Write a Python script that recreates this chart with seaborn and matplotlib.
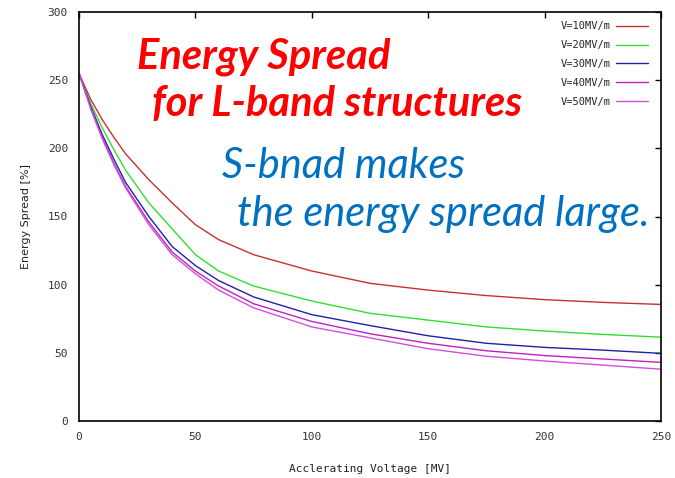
import numpy as np
import pandas as pd
import matplotlib
matplotlib.use("Agg")
import matplotlib.pyplot as plt
import seaborn as sns
from matplotlib.lines import Line2D

voltage = [0, 5, 10, 15, 20, 30, 40, 50, 60, 75, 100, 125, 150, 175, 200, 225, 250]
v10 = [255, 236, 221, 208, 196, 177, 160, 144, 133, 122, 110, 101, 96, 92, 89, 87, 85.5]
v20 = [255, 233, 215, 199, 184, 160, 141, 122, 110, 99, 88, 79, 74, 69, 66, 63.5, 61.5]
v30 = [255, 231, 210, 192, 175, 150, 128, 114, 103, 91, 78, 70, 62.5, 57, 54, 52, 49.6]
v40 = [255, 230, 208, 189, 172, 146, 124, 110, 99, 86, 73, 64, 57, 51.5, 48, 45.5, 43]
v50 = [255, 229, 207, 188, 171, 144, 122, 108, 96, 83, 69, 61, 53, 47.5, 44, 41, 38]
series_names = ["V=10MV/m", "V=20MV/m", "V=30MV/m", "V=40MV/m", "V=50MV/m"]
series_vals = [v10, v20, v30, v40, v50]
colors = ["#c83030", "#30e030", "#2020a8", "#c020c0", "#d050d8"]
xticks = [0, 50, 100, 150, 200, 250]
yticks = [0, 50, 100, 150, 200, 250, 300]

rows = []
for name, vals in zip(series_names, series_vals):
    for x, y in zip(voltage, vals):
        rows.append({"V": x, "E": y, "series": name})
df = pd.DataFrame(rows)

sns.set_style("white")
plt.rcParams["font.family"] = ["DejaVu Sans Mono"]

fig = plt.figure(figsize=(6.75, 4.78), dpi=100)
ax = fig.add_axes([79 / 675, 1 - 421 / 478, (661 - 79) / 675, (421 - 12) / 478])

sns.lineplot(data=df, x="V", y="E", hue="series", palette=dict(zip(series_names, colors)),
             ax=ax, linewidth=1.0, legend=False)

ax.set_xlim(0, 250)
ax.set_ylim(0, 300)
ax.set_xticks(xticks)
ax.set_yticks(yticks)
ax.tick_params(direction="in", length=4, width=1, top=True, right=True,
               labelsize=8, colors="black", pad=8)
for lab in ax.get_xticklabels() + ax.get_yticklabels():
    lab.set_color("#333333")
for s in ax.spines.values():
    s.set_color("black")
    s.set_linewidth(1.2)
ax.set_xlabel("Acclerating Voltage [MV]", fontsize=8, labelpad=16, color="#222222")
ax.set_ylabel("Energy Spread [%]", fontsize=8, labelpad=12, color="#222222",
              family="DejaVu Sans")

handles = [Line2D([], [], color=c, lw=1.0) for c in colors]
leg = ax.legend(handles, series_names, loc="upper right", frameon=False,
                markerfirst=False, fontsize=7.5, handlelength=3.0,
                labelspacing=0.85, borderaxespad=0.5, handletextpad=0.5,
                bbox_to_anchor=(0.993, 1.0))

fig.text(137 / 675, 1 - 68 / 478, "Energy Spread", color="#ff0000", fontsize=30,
         fontweight="bold", fontstyle="italic", family="Lato")
fig.text(152 / 675, 1 - 116 / 478, "for L-band structures", color="#ff0000", fontsize=30,
         fontweight="bold", fontstyle="italic", family="Lato")
fig.text(222 / 675, 1 - 178 / 478, "S-bnad makes", color="#0070c0", fontsize=30,
         fontstyle="italic", family="Lato")
fig.text(237 / 675, 1 - 226 / 478, "the energy spread large.", color="#0070c0", fontsize=30,
         fontstyle="italic", family="Lato")

fig.savefig("out.png", dpi=100)
